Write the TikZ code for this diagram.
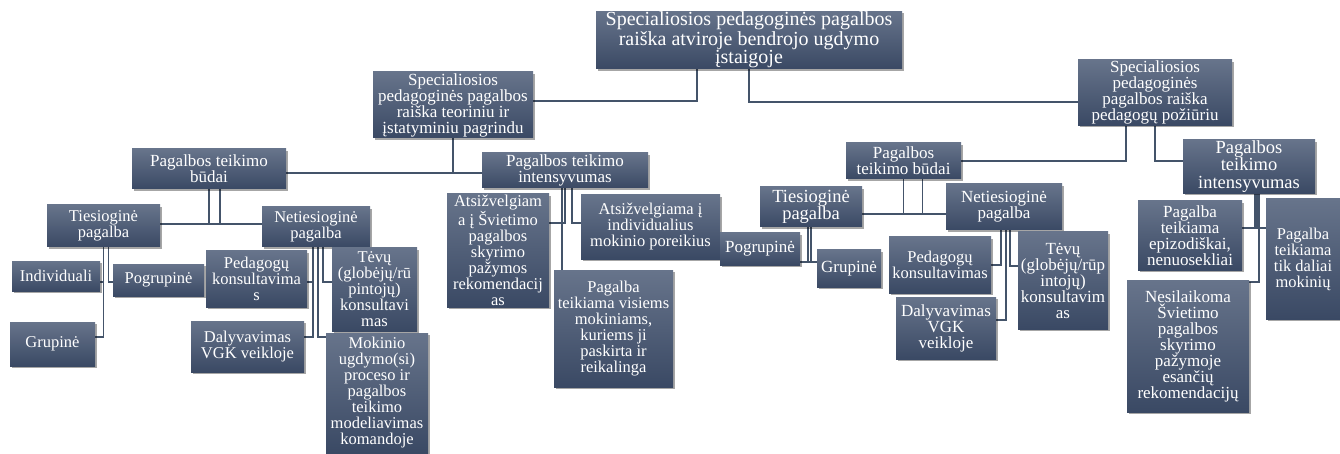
\documentclass[tikz,border=0pt]{standalone}
\usepackage{fontspec}
\setmainfont{Liberation Serif}
\usetikzlibrary{backgrounds}
\usetikzlibrary{shadows}
\definecolor{boxtop}{HTML}{67748B}
\definecolor{boxbot}{HTML}{3A4964}
\definecolor{linecol}{HTML}{44546A}
\tikzset{
  box/.style={top color=boxtop, bottom color=boxbot, text=white, align=center, inner sep=1pt,
    drop shadow={shadow xshift=2pt, shadow yshift=-2pt, opacity=0.35, fill=black},
    font=\fontsize{16.5}{16}\selectfont},
  link/.style={draw=linecol, line width=1.6pt},
  big/.style={font=\fontsize{17}{16}\selectfont}
}

\begin{document}
\begin{tikzpicture}[x=1pt, y=-1pt]
    \useasboundingbox (0,0) rectangle (1340,454);

    \node[box, minimum width=306pt, minimum height=54pt, font=\fontsize{20}{17.5}\selectfont] (root) at (749,40) {Specialiosios pedagoginės pagalbos\\raiška atviroje bendrojo ugdymo\\įstaigoje};
    \node[box, big, minimum width=160pt, minimum height=66pt] (teor) at (453,105) {Specialiosios\\pedagoginės pagalbos\\raiška teoriniu ir\\įstatyminiu pagrindu};
    \node[box, big, minimum width=154pt, minimum height=65pt] (pozi) at (1155,92.5) {Specialiosios\\pedagoginės\\pagalbos raiška\\pedagogų požiūriu};

    % left branch
    \node[box, big, minimum width=154pt, minimum height=40pt] (budaiL) at (209,169) {Pagalbos teikimo\\būdai};
    \node[box, big, minimum width=166pt, minimum height=35pt] (intensL) at (565,170.5) {Pagalbos teikimo\\intensyvumas};
    \node[box, minimum width=113pt, minimum height=42pt] (tiesL) at (103.5,226) {Tiesioginė\\pagalba};
    \node[box, minimum width=108pt, minimum height=40pt] (netL) at (316,227) {Netiesioginė\\pagalba};
    \node[box, minimum width=88pt, minimum height=30pt] (indivL) at (56,276) {Individuali};
    \node[box, minimum width=85pt, minimum height=44pt] (grupL) at (52.5,344) {Grupinė};
    \node[box, minimum width=91pt, minimum height=32pt] (pogrL) at (158.5,280) {Pogrupinė};
    \node[box, minimum width=101pt, minimum height=56pt] (pedL) at (256.5,279) {Pedagogų\\konsultavima\\s};
    \node[box, minimum width=85pt, minimum height=83pt] (tevL) at (374.5,289.5) {Tėvų\\(globėjų/rū\\pintojų)\\konsultavi\\mas};
    \node[box, minimum width=113pt, minimum height=51pt] (vgkL) at (247.5,346.5) {Dalyvavimas\\VGK veikloje};
    \node[box, minimum width=102pt, minimum height=120pt] (modL) at (377,393) {Mokinio\\ugdymo(si)\\proceso ir\\pagalbos\\teikimo\\modeliavimas\\komandoje};
    \node[box, minimum width=102pt, minimum height=113pt] (rekL) at (498,250.5) {Atsižvelgiam\\a į Švietimo\\pagalbos\\skyrimo\\pažymos\\rekomendacij\\as};
    \node[box, minimum width=139pt, minimum height=64pt] (indvL) at (650.5,227) {Atsižvelgiama į\\individualius\\mokinio poreikius};
    \node[box, minimum width=119pt, minimum height=117pt] (visL) at (613.5,328.5) {Pagalba\\teikiama visiems\\mokiniams,\\kuriems ji\\paskirta ir\\reikalinga};

    % right branch
    \node[box, big, minimum width=115pt, minimum height=36pt] (budaiR) at (903.5,161) {Pagalbos\\teikimo būdai};
    \node[box, minimum width=132pt, minimum height=51pt, font=\fontsize{18.5}{17.5}\selectfont] (intensR) at (1249,166.5) {Pagalbos\\teikimo\\intensyvumas};
    \node[box, minimum width=102pt, minimum height=40pt, font=\fontsize{18.5}{17}\selectfont] (tiesR) at (811,207) {Tiesioginė\\pagalba};
    \node[box, big, minimum width=116pt, minimum height=46pt] (netR) at (1004,207) {Netiesioginė\\pagalba};
    \node[box, big, minimum width=80pt, minimum height=32pt] (pogrR) at (760,249) {Pogrupinė};
    \node[box, big, minimum width=64pt, minimum height=37pt] (grupR) at (849,268.5) {Grupinė};
    \node[box, minimum width=102pt, minimum height=56pt] (pedR) at (940,265) {Pedagogų\\konsultavimas};
    \node[box, big, minimum width=90pt, minimum height=97pt] (tevR) at (1063,280.5) {Tėvų\\(globėjų/rūp\\intojų)\\konsultavim\\as};
    \node[box, big, minimum width=100pt, minimum height=62pt] (vgkR) at (946,328) {Dalyvavimas\\VGK\\veikloje};
    \node[box, big, minimum width=104pt, minimum height=69pt] (epizR) at (1190,235.5) {Pagalba\\teikiama\\epizodiškai,\\nenuosekliai};
    \node[box, minimum width=74pt, minimum height=120pt] (dalR) at (1303,259) {Pagalba\\teikiama\\tik daliai\\mokinių};
    \node[box, big, minimum width=122pt, minimum height=132pt] (nesR) at (1188,346) {Nesilaikoma\\Švietimo\\pagalbos\\skyrimo\\pažymoje\\esančių\\rekomendacijų};

    \begin{pgfonlayer}{background}
    \fill[white] (0,0) rectangle (1340,454);
    \draw[link] ([xshift=-52pt]root.south) |- ([yshift=4pt]teor.east);
    \draw[link] (root.south) |- ([yshift=-9.5pt]pozi.west);
    \draw[link] (teor.south) |- ([yshift=-4pt]budaiL.east);
    \draw[link] (teor.south) |- ([yshift=-2.5pt]intensL.west);
    \draw[link] (budaiL.south) |- ([yshift=3pt]netL.west);
    \draw[link] ([xshift=11pt]budaiL.south) |- ([yshift=2pt]tiesL.east);
    \draw[link] (tiesL.south) |- ([yshift=-6pt]indivL.east);
    \draw[link] (tiesL.south) |- ([yshift=7pt]grupL.east);
    \draw[link] ([xshift=5pt]tiesL.south) |- ([yshift=-2pt]pogrL.west);
    \draw[link] ([xshift=-3pt]netL.south) |- ([yshift=-3pt]pedL.east);
    \draw[link] ([xshift=-3pt]netL.south) |- ([yshift=9.5pt]vgkL.east);
    \draw[link] ([xshift=2pt]netL.south) |- ([yshift=-4pt]modL.north west);
    \draw[link] ([xshift=7pt]netL.south) |- ([yshift=7.5pt]tevL.west);
    \draw[link] (intensL.south) |- ([yshift=27.5pt]rekL.east);
    \draw[link] ([xshift=7pt]intensL.south) |- ([yshift=4pt]indvL.west);
    \draw[link] ([xshift=-3pt]intensL.south) |- (visL.west);
    \draw[link] ([xshift=-29pt]pozi.south) |- (budaiR.east);
    \draw[link] (pozi.south) |- ([yshift=5.5pt]intensR.west);
    \draw[link] (budaiR.south) |- ([yshift=-7pt]netR.west);
    \draw[link] ([xshift=19pt]budaiR.south) |- ([yshift=-7pt]tiesR.east);
    \draw[link] ([xshift=-3pt]tiesR.south) |- ([yshift=6.5pt]grupR.west);
    \draw[link] (tiesR.south) |- ([yshift=-13pt]pogrR.east);
    \draw[link] ([xshift=-3pt]netR.south) |- (pedR.east);
    \draw[link] ([xshift=2pt]netR.south) |- ([yshift=8pt]vgkR.east);
    \draw[link] ([xshift=6pt]netR.south) |- ([yshift=14.5pt]tevR.west);
    \draw[link] ([xshift=6pt]intensR.south) |- ([yshift=7.5pt]epizR.east);
    \draw[link] ([xshift=8pt]intensR.south) |- ([yshift=31pt]dalR.west);
    \draw[link] ([xshift=10pt]intensR.south) |- ([yshift=-2pt]nesR.north east);
    \end{pgfonlayer}
  \end{tikzpicture}
\end{document}
